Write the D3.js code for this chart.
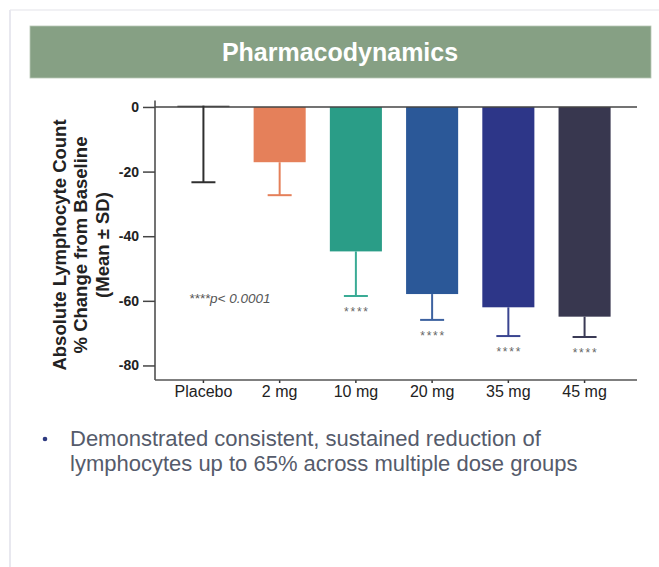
<!DOCTYPE html>
<html>
<head>
<meta charset="utf-8">
<script src="https://cdn.jsdelivr.net/npm/d3@7"></script>
<style>
  html, body { margin: 0; padding: 0; background: #fff; }
  svg { display: block; }
</style>
</head>
<body>
<svg id="chart" width="659" height="567"></svg>
<script>
// ---- data ----
const categories = ["Placebo", "2 mg", "10 mg", "20 mg", "35 mg", "45 mg"];
const means = [0.4, -17.1, -44.7, -57.9, -62.0, -64.9];
const sds = [23.7, 10.2, 13.8, 8.0, 8.9, 6.3];
const significance = ["", "", "****", "****", "****", "****"];
const yTicks = [0, -20, -40, -60, -80];
const barColors = ["#555555", "#e5805a", "#2a9d87", "#2b5898", "#2d3688", "#38374f"];
const errColors = ["#2f2f2f", "#e5805a", "#3aab95", "#3d62a0", "#3a4590", "#3a3a55"];
const title = "Pharmacodynamics";
const yTitle = ["Absolute Lymphocyte Count", "% Change from Baseline", "(Mean \u00b1 SD)"];
const pNote = "****p< 0.0001";
const bulletLines = ["Demonstrated consistent, sustained reduction of", "lymphocytes up to 65% across multiple dose groups"];

const svg = d3.select("#chart");
const font = "'Liberation Sans', Arial, sans-serif";

// page frame
svg.append("line").attr("x1", 10).attr("x2", 659).attr("y1", 10).attr("y2", 10)
  .attr("stroke", "#ececf1").attr("stroke-width", 1.5);
svg.append("line").attr("x1", 10).attr("x2", 10).attr("y1", 10).attr("y2", 567)
  .attr("stroke", "#e8e8ef").attr("stroke-width", 2);

// header band
svg.append("rect").attr("x", 30).attr("y", 26).attr("width", 621).attr("height", 52)
  .attr("fill", "#86a084").attr("stroke", "#b9c9b7").attr("stroke-width", 0.8);
svg.append("text").attr("x", 340).attr("y", 61).attr("text-anchor", "middle")
  .attr("font-family", font).attr("font-weight", "bold").attr("font-size", 25)
  .attr("fill", "#ffffff").text(title);

// scales
const x = d3.scaleBand().domain(categories).range([153, 635]).paddingInner(0.317).paddingOuter(0.32);
const y = d3.scaleLinear().domain([2, -84.5]).range([100.5, 380]);

const axisLeft = 155, axisRight = 637, axisBottom = 380;

// y axis
const yAxis = svg.append("g").attr("transform", `translate(${axisLeft},0)`)
  .call(d3.axisLeft(y).tickValues(yTicks).tickSize(12).tickPadding(4)
    .tickFormat(d => String(d)));
yAxis.select(".domain").remove();
yAxis.selectAll(".tick line").attr("stroke", "#444").attr("stroke-width", 1.5);
yAxis.selectAll(".tick text").attr("font-family", font).attr("font-weight", "bold")
  .attr("font-size", 14).attr("fill", "#222");
svg.append("line").attr("x1", axisLeft).attr("x2", axisLeft).attr("y1", y(2)).attr("y2", axisBottom)
  .attr("stroke", "#444").attr("stroke-width", 1.5);

// bars
const data = categories.map((c, i) => ({ c, m: means[i], sd: sds[i], sig: significance[i], i }));
svg.append("g").selectAll("rect").data(data).join("rect")
  .attr("x", d => x(d.c))
  .attr("width", x.bandwidth())
  .attr("y", d => y(Math.max(0, d.m)))
  .attr("height", d => Math.max(1.5, Math.abs(y(d.m) - y(0))))
  .attr("fill", d => barColors[d.i]);

// zero line
svg.append("line").attr("x1", axisLeft).attr("x2", axisRight).attr("y1", y(0)).attr("y2", y(0))
  .attr("stroke", "#444").attr("stroke-width", 1.5);

// error bars (downward)
const eg = svg.append("g");
data.forEach(d => {
  const cx = x(d.c) + x.bandwidth() / 2;
  const y0 = y(d.m), y1 = y(d.m - d.sd);
  eg.append("line").attr("x1", cx).attr("x2", cx).attr("y1", y0).attr("y2", y1)
    .attr("stroke", errColors[d.i]).attr("stroke-width", 2);
  eg.append("line").attr("x1", cx - 12).attr("x2", cx + 12).attr("y1", y1).attr("y2", y1)
    .attr("stroke", errColors[d.i]).attr("stroke-width", 2);
  if (d.sig) {
    eg.append("text").attr("x", cx + 1).attr("y", y1 + 20).attr("text-anchor", "middle")
      .attr("font-family", font).attr("font-size", 12).attr("fill", "#666")
      .attr("letter-spacing", 1.8).text(d.sig);
  }
});

// x axis
const xAxis = svg.append("g").attr("transform", `translate(0,${axisBottom})`)
  .call(d3.axisBottom(x).tickSize(3).tickPadding(3));
xAxis.select(".domain").remove();
xAxis.selectAll(".tick line").attr("stroke", "#333").attr("stroke-width", 1.5);
xAxis.selectAll(".tick text").attr("font-family", font).attr("font-size", 16).attr("fill", "#222");
svg.append("line").attr("x1", axisLeft).attr("x2", axisRight).attr("y1", axisBottom).attr("y2", axisBottom)
  .attr("stroke", "#555").attr("stroke-width", 1.5);

// y title
const yt = svg.append("text").attr("transform", "translate(81,245) rotate(-90)")
  .attr("text-anchor", "middle").attr("font-family", font).attr("font-weight", "bold")
  .attr("font-size", 18.5).attr("fill", "#222");
yTitle.forEach((t, i) => {
  yt.append("tspan").attr("x", 0).attr("y", (i - 1) * 21.5 + 6).text(t);
});

// p-value note
svg.append("text").attr("x", 189).attr("y", 303).attr("font-family", font)
  .attr("font-style", "italic").attr("font-size", 13.5).attr("fill", "#555").text(pNote);

// bullet
svg.append("circle").attr("cx", 45).attr("cy", 439).attr("r", 2.3).attr("fill", "#2e3a80");
bulletLines.forEach((t, i) => {
  svg.append("text").attr("x", 70).attr("y", 446 + i * 25).attr("font-family", font)
    .attr("font-size", 22).attr("fill", "#555b6b").text(t);
});
</script>
</body>
</html>
